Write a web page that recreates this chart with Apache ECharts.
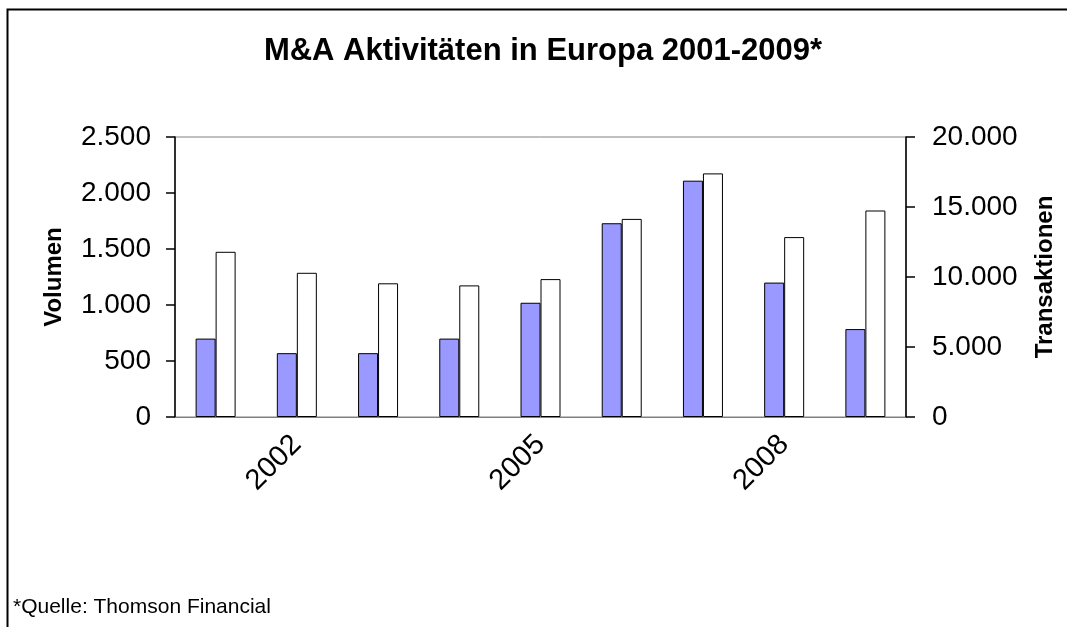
<!DOCTYPE html>
<html>
<head>
<meta charset="utf-8">
<script src="https://cdn.jsdelivr.net/npm/echarts@6/dist/echarts.min.js"></script>
<style>
html,body{margin:0;padding:0;background:#fff;}
#chart{width:1067px;height:627px;}
</style>
</head>
<body>
<div id="chart"></div>
<script>
const categories = ['2001','2002','2003','2004','2005','2006','2007','2008','2009'];
const volumen = [700, 570, 570, 700, 1020, 1730, 2110, 1200, 785];
const transaktionen = [11800, 10300, 9550, 9400, 9850, 14150, 17400, 12850, 14750];
const shownYearLabels = ['2002', '2005', '2008'];

const FONT = "'Liberation Sans', Arial, sans-serif";
function fmt(v){ return String(v).replace(/\B(?=(\d{3})+(?!\d))/g, '.'); }

const chart = echarts.init(document.getElementById('chart'));
chart.setOption({
  backgroundColor: '#ffffff',
  animation: false,
  title: {
    text: 'M&A Aktivitäten in Europa 2001-2009*',
    left: 538,
    textAlign: 'center',
    top: 31,
    textStyle: { fontFamily: FONT, fontSize: 31, fontWeight: 'bold', color: '#000' }
  },
  graphic: [
    { type: 'polyline', shape: { points: [[7.5, 700], [7.5, 9.5], [1100, 9.5]] }, style: { stroke: '#000', lineWidth: 2, fill: null } },
    { type: 'text', left: 13, top: 597, style: { text: '*Quelle: Thomson Financial', font: "21px 'Liberation Sans', Arial, sans-serif", fill: '#000' } }
  ],
  grid: { left: 175, right: 161, top: 137, bottom: 210, show: true, borderColor: '#808080', borderWidth: 1, backgroundColor: 'transparent' },
  xAxis: {
    type: 'category',
    data: categories,
    axisLine: { lineStyle: { color: '#808080', width: 1 } },
    axisTick: { show: false },
    axisLabel: {
      rotate: 45,
      margin: 23,
      fontFamily: FONT,
      fontSize: 29,
      color: '#000',
      interval: 0,
      formatter: function (v) { return shownYearLabels.indexOf(v) >= 0 ? v : ''; }
    },
    splitLine: { show: false }
  },
  yAxis: [
    {
      type: 'value', min: 0, max: 2500, interval: 500, position: 'left',
      name: 'Volumen', nameLocation: 'middle', nameGap: 109, nameRotate: 90,
      nameTextStyle: { fontFamily: FONT, fontSize: 24, fontWeight: 'bold', color: '#000' },
      axisLine: { show: true, lineStyle: { color: '#000', width: 1.5 } },
      axisTick: { show: true, length: 9, lineStyle: { color: '#000', width: 1.5 } },
      axisLabel: { margin: 24, fontFamily: FONT, fontSize: 28, color: '#000', formatter: fmt },
      splitLine: { show: false }
    },
    {
      type: 'value', min: 0, max: 20000, interval: 5000, position: 'right',
      name: 'Transaktionen', nameLocation: 'middle', nameGap: 127, nameRotate: 90,
      nameTextStyle: { fontFamily: FONT, fontSize: 24, fontWeight: 'bold', color: '#000' },
      axisLine: { show: true, lineStyle: { color: '#000', width: 1.5 } },
      axisTick: { show: true, length: 9, lineStyle: { color: '#000', width: 1.5 } },
      axisLabel: { margin: 26, fontFamily: FONT, fontSize: 28, color: '#000', formatter: fmt },
      splitLine: { show: false }
    }
  ],
  series: [
    {
      name: 'Volumen', type: 'bar', yAxisIndex: 0, data: volumen,
      barWidth: 20, barGap: '0%',
      itemStyle: { color: '#9999FF', borderColor: '#000', borderWidth: 1 }
    },
    {
      name: 'Transaktionen', type: 'bar', yAxisIndex: 1, data: transaktionen,
      barWidth: 20, barGap: '0%',
      itemStyle: { color: '#FFFFFF', borderColor: '#000', borderWidth: 1 }
    }
  ]
});
</script>
</body>
</html>
